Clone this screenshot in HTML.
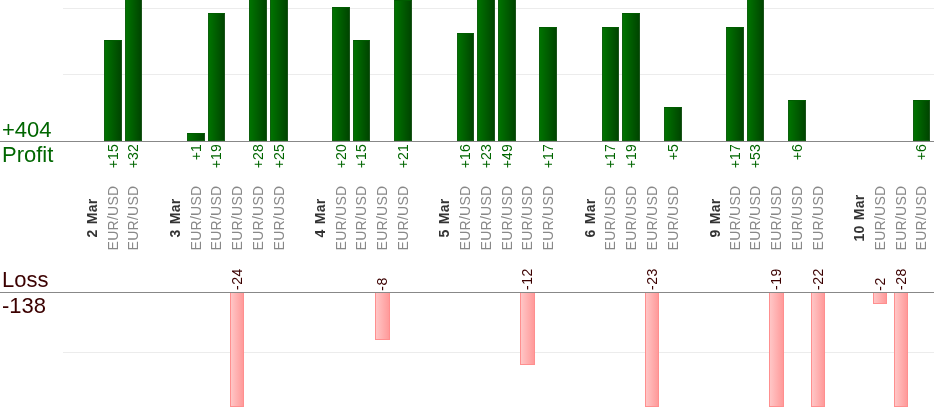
<!DOCTYPE html>
<html><head><meta charset="utf-8"><style>
html,body{margin:0;padding:0;}
body{width:934px;height:420px;overflow:hidden;position:relative;background:#fff;font-family:"Liberation Sans",sans-serif;}
#w{position:absolute;left:0;top:0;width:934px;height:420px;will-change:transform;}
.g{position:absolute;left:63px;right:0;height:1px;background:#ececec;}
.bl{position:absolute;left:0;right:0;height:1px;background:#888;}
.pb{position:absolute;box-sizing:border-box;border:1px solid #0e600e;border-top-color:#005c00;border-right-color:#1a531a;background:linear-gradient(to right,#007300,#004500);}
.lb{position:absolute;box-sizing:border-box;border:1px solid #ff8f8f;background:linear-gradient(to right,#ffc6c6,#ff9a9a);}
.v,.c{position:absolute;writing-mode:vertical-rl;white-space:nowrap;width:16px;line-height:16px;text-align:left;}
.v{font-size:14px;letter-spacing:0.15px;}
.pv{color:#006600;top:144px;transform:rotate(180deg);}
.lv{color:#3b0000;bottom:129.5px;letter-spacing:0.6px;transform:rotate(180deg);}
.c{font-size:14px;letter-spacing:0.25px;top:218.1px;transform:translateY(-50%) rotate(180deg);}
.d{font-weight:bold;color:#333;word-spacing:1px;}
.e{color:#888;}
.big{position:absolute;left:2px;font-size:22px;line-height:22px;white-space:nowrap;}
</style></head><body><div id="w">
<div class="g" style="top:8px"></div>
<div class="g" style="top:74px"></div>
<div class="g" style="top:352px"></div>
<div class="pb" style="left:104px;top:40px;width:18px;height:101px"></div>
<div class="pb" style="left:125px;top:-20px;width:17px;height:161px"></div>
<div class="pb" style="left:187px;top:133px;width:18px;height:8px"></div>
<div class="pb" style="left:208px;top:13px;width:17px;height:128px"></div>
<div class="pb" style="left:249px;top:-20px;width:18px;height:161px"></div>
<div class="pb" style="left:270px;top:-20px;width:18px;height:161px"></div>
<div class="pb" style="left:332px;top:7px;width:18px;height:134px"></div>
<div class="pb" style="left:353px;top:40px;width:17px;height:101px"></div>
<div class="pb" style="left:394px;top:0px;width:18px;height:141px"></div>
<div class="pb" style="left:457px;top:33px;width:17px;height:108px"></div>
<div class="pb" style="left:477px;top:-20px;width:18px;height:161px"></div>
<div class="pb" style="left:498px;top:-20px;width:18px;height:161px"></div>
<div class="pb" style="left:539px;top:27px;width:18px;height:114px"></div>
<div class="pb" style="left:602px;top:27px;width:17px;height:114px"></div>
<div class="pb" style="left:622px;top:13px;width:18px;height:128px"></div>
<div class="pb" style="left:664px;top:107px;width:18px;height:34px"></div>
<div class="pb" style="left:726px;top:27px;width:18px;height:114px"></div>
<div class="pb" style="left:747px;top:-20px;width:17px;height:161px"></div>
<div class="pb" style="left:788px;top:100px;width:18px;height:41px"></div>
<div class="pb" style="left:913px;top:100px;width:17px;height:41px"></div>
<div class="lb" style="left:230px;top:292px;width:14px;height:115px"></div>
<div class="lb" style="left:375px;top:292px;width:15px;height:48px"></div>
<div class="lb" style="left:520px;top:292px;width:15px;height:73px"></div>
<div class="lb" style="left:645px;top:292px;width:14px;height:115px"></div>
<div class="lb" style="left:769px;top:292px;width:15px;height:115px"></div>
<div class="lb" style="left:811px;top:292px;width:14px;height:115px"></div>
<div class="lb" style="left:873px;top:292px;width:14px;height:12px"></div>
<div class="lb" style="left:894px;top:292px;width:14px;height:115px"></div>
<div class="bl" style="top:141px"></div>
<div class="bl" style="top:292px"></div>
<div class="v pv" style="left:105.40px">+15</div>
<div class="v pv" style="left:125.40px">+32</div>
<div class="v pv" style="left:188.40px">+1</div>
<div class="v pv" style="left:208.40px">+19</div>
<div class="v pv" style="left:250.40px">+28</div>
<div class="v pv" style="left:271.40px">+25</div>
<div class="v pv" style="left:333.40px">+20</div>
<div class="v pv" style="left:353.40px">+15</div>
<div class="v pv" style="left:395.40px">+21</div>
<div class="v pv" style="left:457.40px">+16</div>
<div class="v pv" style="left:478.40px">+23</div>
<div class="v pv" style="left:499.40px">+49</div>
<div class="v pv" style="left:540.40px">+17</div>
<div class="v pv" style="left:602.40px">+17</div>
<div class="v pv" style="left:623.40px">+19</div>
<div class="v pv" style="left:665.40px">+5</div>
<div class="v pv" style="left:727.40px">+17</div>
<div class="v pv" style="left:747.40px">+53</div>
<div class="v pv" style="left:789.40px">+6</div>
<div class="v pv" style="left:913.40px">+6</div>
<div class="v lv" style="left:229.00px">-24</div>
<div class="v lv" style="left:374.00px">-8</div>
<div class="v lv" style="left:519.00px">-12</div>
<div class="v lv" style="left:644.00px">-23</div>
<div class="v lv" style="left:768.00px">-19</div>
<div class="v lv" style="left:810.00px">-22</div>
<div class="v lv" style="left:872.00px">-2</div>
<div class="v lv" style="left:893.00px">-28</div>
<div class="c d" style="left:84.04px">2 Mar</div>
<div class="c e" style="left:105.00px">EUR/USD</div>
<div class="c e" style="left:125.00px">EUR/USD</div>
<div class="c d" style="left:167.02px">3 Mar</div>
<div class="c e" style="left:188.00px">EUR/USD</div>
<div class="c e" style="left:208.00px">EUR/USD</div>
<div class="c e" style="left:229.00px">EUR/USD</div>
<div class="c e" style="left:250.00px">EUR/USD</div>
<div class="c e" style="left:271.00px">EUR/USD</div>
<div class="c d" style="left:312.23px">4 Mar</div>
<div class="c e" style="left:333.00px">EUR/USD</div>
<div class="c e" style="left:353.00px">EUR/USD</div>
<div class="c e" style="left:374.00px">EUR/USD</div>
<div class="c e" style="left:395.00px">EUR/USD</div>
<div class="c d" style="left:435.69px">5 Mar</div>
<div class="c e" style="left:457.00px">EUR/USD</div>
<div class="c e" style="left:478.00px">EUR/USD</div>
<div class="c e" style="left:499.00px">EUR/USD</div>
<div class="c e" style="left:519.00px">EUR/USD</div>
<div class="c e" style="left:540.00px">EUR/USD</div>
<div class="c d" style="left:581.90px">6 Mar</div>
<div class="c e" style="left:602.00px">EUR/USD</div>
<div class="c e" style="left:623.00px">EUR/USD</div>
<div class="c e" style="left:644.00px">EUR/USD</div>
<div class="c e" style="left:665.00px">EUR/USD</div>
<div class="c d" style="left:707.06px">9 Mar</div>
<div class="c e" style="left:727.00px">EUR/USD</div>
<div class="c e" style="left:747.00px">EUR/USD</div>
<div class="c e" style="left:768.00px">EUR/USD</div>
<div class="c e" style="left:789.00px">EUR/USD</div>
<div class="c e" style="left:810.00px">EUR/USD</div>
<div class="c d" style="left:850.77px">10 Mar</div>
<div class="c e" style="left:872.00px">EUR/USD</div>
<div class="c e" style="left:893.00px">EUR/USD</div>
<div class="c e" style="left:913.00px">EUR/USD</div>
<div class="big" style="top:119px;color:#006600">+404</div>
<div class="big" style="top:144px;color:#006600">Profit</div>
<div class="big" style="top:269px;color:#3b0000">Loss</div>
<div class="big" style="top:295px;color:#3b0000">-138</div>
</div></body></html>
